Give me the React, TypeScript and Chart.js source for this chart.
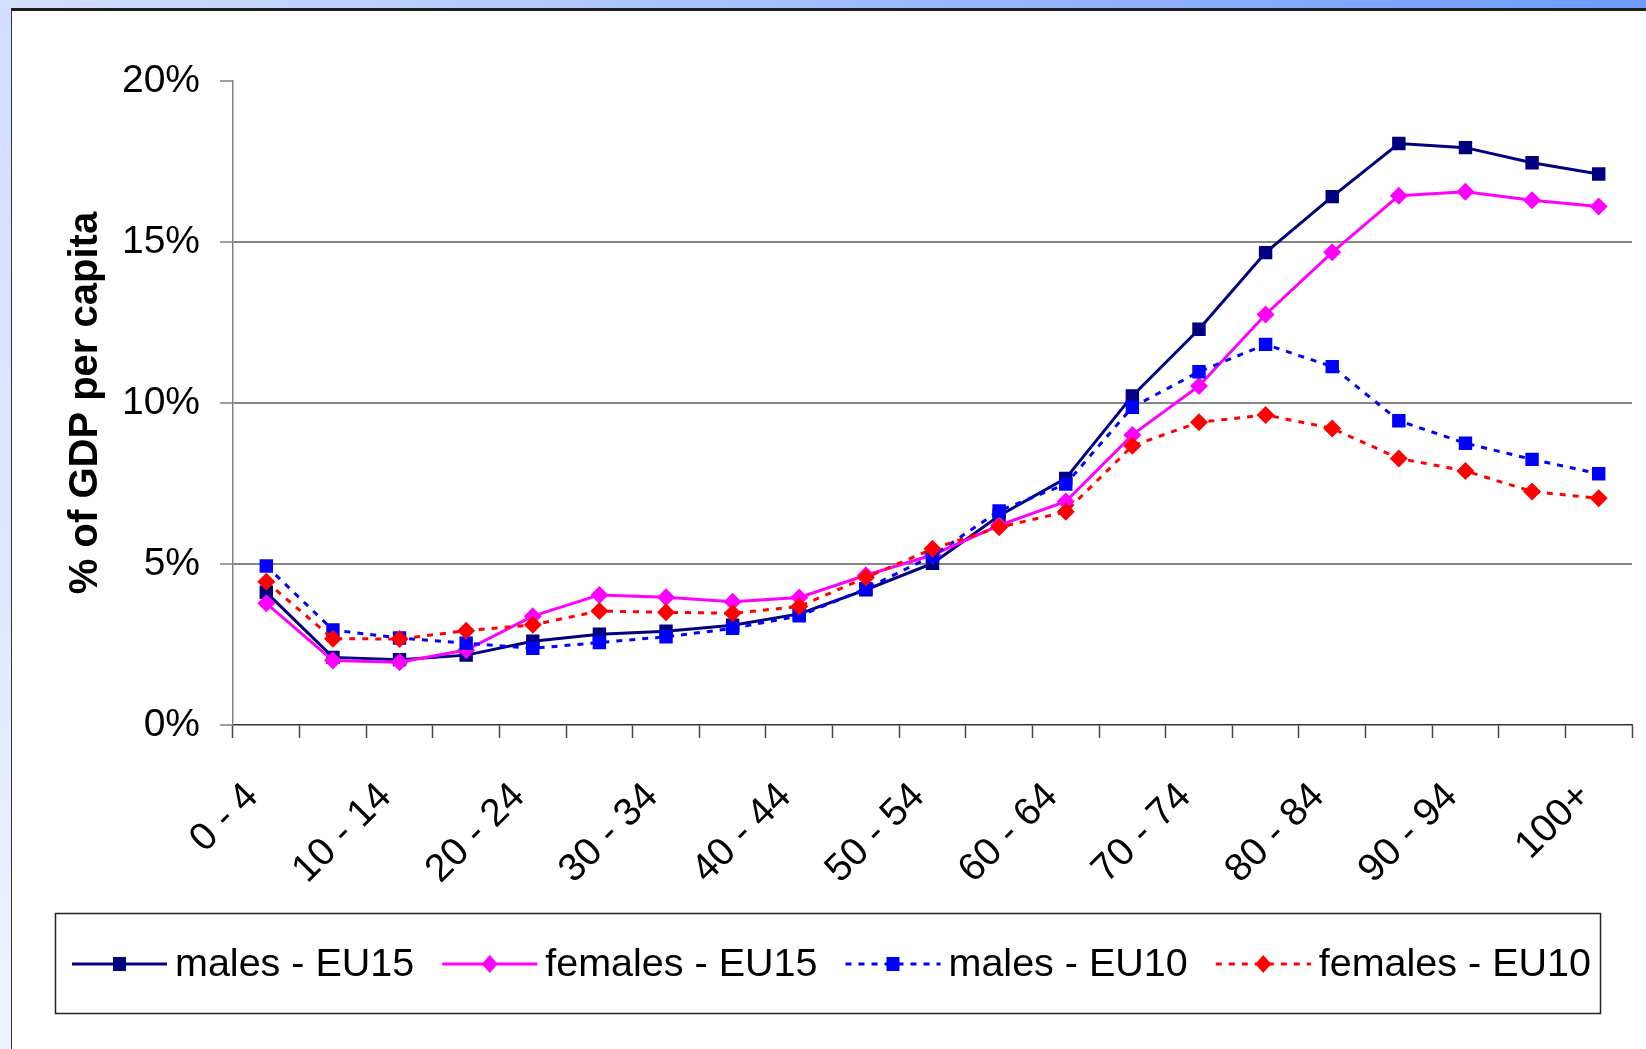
import React, { useEffect, useRef } from 'react';
import { Chart, registerables } from 'chart.js';

Chart.register(...registerables);

const ageGroups = ['0 - 4', '5 - 9', '10 - 14', '15 - 19', '20 - 24', '25 - 29', '30 - 34', '35 - 39', '40 - 44', '45 - 49', '50 - 54', '55 - 59', '60 - 64', '65 - 69', '70 - 74', '75 - 79', '80 - 84', '85 - 89', '90 - 94', '95 - 99', '100+'];
const malesEU15 = [4.12, 2.1, 2.03, 2.17, 2.6, 2.82, 2.91, 3.1, 3.45, 4.2, 5.02, 6.5, 7.66, 10.22, 12.29, 14.67, 16.41, 18.06, 17.93, 17.46, 17.11];
const femalesEU15 = [3.78, 2.0, 1.95, 2.33, 3.38, 4.04, 3.97, 3.83, 3.96, 4.65, 5.28, 6.2, 6.94, 9.01, 10.53, 12.75, 14.68, 16.44, 16.56, 16.3, 16.1];
const malesEU10 = [4.94, 2.95, 2.7, 2.54, 2.38, 2.56, 2.74, 3.0, 3.39, 4.23, 5.25, 6.65, 7.48, 9.87, 10.97, 11.82, 11.13, 9.45, 8.75, 8.25, 7.8];
const femalesEU10 = [4.45, 2.68, 2.67, 2.93, 3.11, 3.54, 3.5, 3.47, 3.68, 4.58, 5.47, 6.14, 6.62, 8.67, 9.4, 9.63, 9.21, 8.28, 7.89, 7.25, 7.04];
const yTicks = [0, 5, 10, 15, 20];
const seriesLabels = ['males - EU15', 'females - EU15', 'males - EU10', 'females - EU10'];

const FAMILY = '"Liberation Sans", Arial, Helvetica, sans-serif';

const seriesStyles = [
  { color: '#000080', dash: [] as number[], marker: 'square', order: 4 },
  { color: '#FF00FF', dash: [] as number[], marker: 'diamond', order: 3 },
  { color: '#0000FF', dash: [6, 7], marker: 'square', order: 2 },
  { color: '#FF0000', dash: [6, 7], marker: 'diamond', order: 1 },
];

const legendPlugin = {
  id: 'boxLegend',
  afterDraw(chart: any) {
    const ctx: CanvasRenderingContext2D = chart.ctx;
    ctx.save();
    ctx.strokeStyle = '#222';
    ctx.lineWidth = 1.5;
    ctx.strokeRect(55.5, 913.5, 1545, 100);
    ctx.font = `39.5px ${FAMILY}`;
    ctx.textBaseline = 'middle';
    ctx.textAlign = 'left';
    const y = 964;
    let x = 72;
    const sample = 95;
    seriesLabels.forEach((label, i) => {
      const st = seriesStyles[i];
      ctx.strokeStyle = st.color;
      ctx.lineWidth = 3;
      ctx.setLineDash(st.dash);
      ctx.beginPath();
      ctx.moveTo(x, y);
      ctx.lineTo(x + sample, y);
      ctx.stroke();
      ctx.setLineDash([]);
      const cx = x + sample / 2;
      ctx.fillStyle = st.color;
      if (st.marker === 'square') {
        ctx.fillRect(cx - 6.5, y - 7, 13, 14);
      } else {
        ctx.beginPath();
        ctx.moveTo(cx - 8, y);
        ctx.lineTo(cx, y - 9);
        ctx.lineTo(cx + 8, y);
        ctx.lineTo(cx, y + 9);
        ctx.closePath();
        ctx.fill();
      }
      ctx.fillStyle = '#000';
      const tx = x + sample + 8;
      ctx.fillText(label, tx, y + 1);
      x = tx + ctx.measureText(label).width + 28;
    });
    ctx.restore();
  },
};

export default function App() {
  const ref = useRef<HTMLCanvasElement>(null);

  useEffect(() => {
    const allSeries = [malesEU15, femalesEU15, malesEU10, femalesEU10];
    const chart = new Chart(ref.current as HTMLCanvasElement, {
      type: 'line',
      data: {
        labels: ageGroups,
        datasets: allSeries.map((d, i) => ({
          label: seriesLabels[i],
          data: d,
          borderColor: seriesStyles[i].color,
          backgroundColor: seriesStyles[i].color,
          borderWidth: 3,
          borderDash: seriesStyles[i].dash,
          pointStyle: seriesStyles[i].marker === 'square' ? 'rect' : 'rectRot',
          pointRadius: seriesStyles[i].marker === 'square' ? 9.5 : 9,
          pointBorderWidth: 0,
          pointBackgroundColor: seriesStyles[i].color,
          tension: 0,
          fill: false,
          order: seriesStyles[i].order,
        })),
      },
      options: {
        animation: false,
        responsive: false,
        layout: { padding: { left: 40, top: 81, right: 14, bottom: 0 } },
        plugins: { legend: { display: false }, tooltip: { enabled: false } },
        scales: {
          x: {
            type: 'category',
            offset: true,
            grid: {
              offset: true,
              drawOnChartArea: false,
              drawTicks: true,
              tickLength: 13,
              tickColor: '#444',
              tickWidth: 1.5,
            },
            border: { color: '#333', width: 1.5 },
            ticks: {
              autoSkip: false,
              minRotation: 45,
              maxRotation: 45,
              padding: 36,
              labelOffset: -14,
              color: '#000',
              font: { family: FAMILY, size: 39 },
              callback: (_v: any, i: number) => (i % 2 === 0 ? ageGroups[i] : ''),
            },
            afterFit: (s: any) => {
              s.height = 324;
              s.paddingRight = 0;
              s.paddingLeft = 0;
            },
          },
          y: {
            min: 0,
            max: 20,
            afterBuildTicks: (s: any) => {
              s.ticks = yTicks.map((v) => ({ value: v }));
            },
            ticks: {
              padding: 20,
              color: '#000',
              font: { family: FAMILY, size: 39 },
              callback: (v: any) => v + '%',
            },
            grid: {
              color: (c: any) =>
                c.tick && (c.tick.value === 20 || c.tick.value === 0) ? 'rgba(0,0,0,0)' : '#868686',
              lineWidth: 2,
              tickLength: 13,
              tickColor: '#808080',
              tickWidth: 1.5,
            },
            border: { color: '#808080', width: 1.5 },
            title: {
              display: true,
              text: '% of GDP per capita',
              color: '#000',
              font: { family: FAMILY, size: 40, weight: 'bold' },
              padding: { top: 22, bottom: 0 },
            },
            afterFit: (s: any) => {
              s.width = 193;
            },
          },
        },
      },
      plugins: [legendPlugin],
    } as any);
    return () => chart.destroy();
  }, []);

  return (
    <div style={{ position: 'fixed', left: 0, top: 0, width: 1646, height: 1049, overflow: 'hidden', background: '#fff' }}>
      <div style={{ position: 'absolute', left: 0, top: 0, width: 1646, height: 8, background: 'linear-gradient(to right, #d4dfff, #6e9bff)' }} />
      <div style={{ position: 'absolute', left: 0, top: 8, width: 11, height: 1041, background: 'linear-gradient(to bottom, #d2dcff, #eef2ff)' }} />
      <div style={{ position: 'absolute', left: 11, top: 8, right: 0, bottom: 0, background: '#fff', borderTop: '3px solid #1e1e1e', borderLeft: '1.5px solid #333' }} />
      <canvas ref={ref} width={1646} height={1049} style={{ position: 'absolute', left: 0, top: 0, width: 1646, height: 1049 }} />
    </div>
  );
}
